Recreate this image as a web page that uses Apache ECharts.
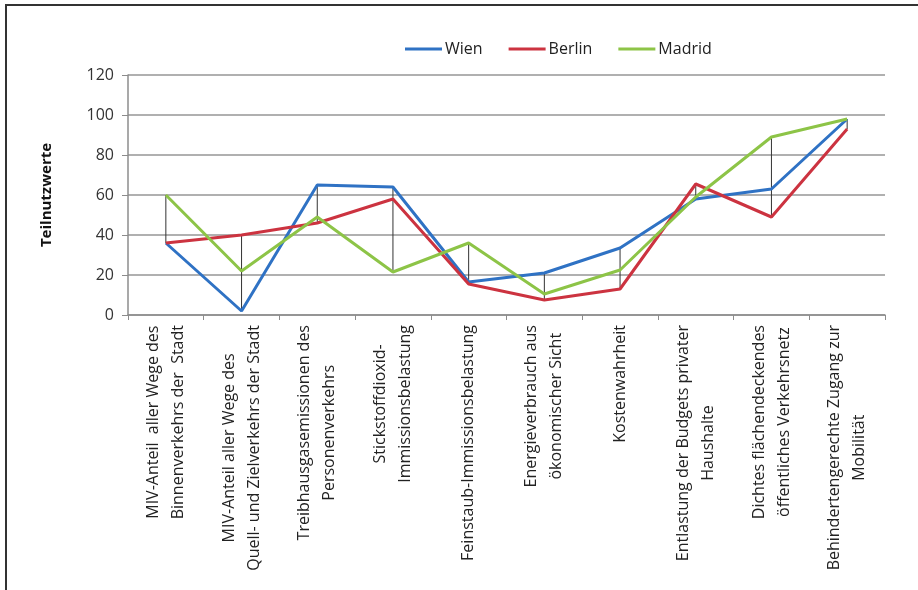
<!DOCTYPE html>
<html>
<head>
<meta charset="utf-8">
<script src="https://cdn.jsdelivr.net/npm/echarts@6/dist/echarts.min.js"></script>
<style>
  html, body { margin: 0; padding: 0; background: #fff; }
  #wrap { position: relative; width: 918px; height: 590px; }
  #chart { position: absolute; left: 0; top: 0; width: 918px; height: 590px; }
  #frame { position: absolute; left: 5px; top: 4px; right: 0; bottom: 0;
           border-top: 2px solid #333; border-left: 2px solid #333; pointer-events: none; }
</style>
</head>
<body>
<div id="wrap">
  <div id="chart"></div>
  <div id="frame"></div>
</div>
<script>
// Kriterien (x-Achse)
const categories = [
  'MIV-Anteil  aller Wege des\nBinnenverkehrs der  Stadt',
  'MIV-Anteil aller Wege des\nQuell- und Zielverkehrs der Stadt',
  'Treibhausgasemissionen des\nPersonenverkehrs',
  'Stickstoffdioxid-\nImmissionsbelastung',
  'Feinstaub-Immissionsbelastung',
  'Energieverbrauch aus\nökonomischer Sicht',
  'Kostenwahrheit',
  'Entlastung der Budgets privater\nHaushalte',
  'Dichtes flächendeckendes\nöffentliches Verkehrsnetz',
  'Behindertengerechte Zugang zur\nMobilität'
]

// Teilnutzwerte je Stadt
const wien   = [36, 2, 65, 64, 16.5, 21, 33.5, 58, 63, 98]
const berlin = [36, 40, 46, 58, 15.5, 7.5, 13, 65.5, 49, 93]
const madrid = [60, 22, 49, 21.5, 36, 10.5, 22.5, 59, 89, 98]

const yTicks = [0, 20, 40, 60, 80, 100, 120]

// Hoch-Tief-Linien: min/max pro Kriterium
const hiLo = categories.map((c, i) => {
  const v = [wien[i], berlin[i], madrid[i]]
  return [i, Math.min(...v), Math.max(...v)]
})

const chart = echarts.init(document.getElementById('chart'))

const font = '"Open Sans", "Noto Sans", sans-serif'

const option = {
  backgroundColor: '#fff',
  animation: false,
  textStyle: { fontFamily: font },
  legend: {
    data: [
      { name: 'Wien', icon: 'rect' },
      { name: 'Berlin', icon: 'rect' },
      { name: 'Madrid', icon: 'rect' }
    ],
    left: 400,
    top: 36,
    itemWidth: 37,
    itemHeight: 3,
    itemGap: 26,
    textStyle: { fontSize: 16, color: '#222', fontFamily: font, padding: [0, 0, 0, -2] }
  },
  grid: {
    left: 128,
    right: 33,
    top: 75,
    bottom: 275
  },
  xAxis: {
    type: 'category',
    data: categories,
    boundaryGap: true,
    axisLine: { lineStyle: { color: '#8c8c8c', width: 1.5 } },
    axisTick: { show: true, length: 5, interval: 0, lineStyle: { color: '#8c8c8c' } },
    axisLabel: {
      interval: 0,
      rotate: 90,
      margin: 10,
      color: '#222',
      fontSize: 16,
      fontFamily: font,
      lineHeight: 25,
      formatter: (val) => val.split('\n').map(s => '{c|' + s + '}').join('\n'),
      rich: {
        c: { align: 'center', fontSize: 16, lineHeight: 25, color: '#222', fontFamily: font }
      }
    }
  },
  yAxis: {
    type: 'value',
    min: yTicks[0],
    max: yTicks[yTicks.length - 1],
    interval: 20,
    name: 'Teilnutzwerte',
    nameLocation: 'middle',
    nameRotate: 90,
    nameGap: 74,
    nameTextStyle: { fontSize: 15, fontWeight: 'bold', color: '#111', fontFamily: font },
    axisLine: { show: true, lineStyle: { color: '#8c8c8c', width: 1.5 } },
    axisTick: { show: true, length: 6, lineStyle: { color: '#8c8c8c' } },
    axisLabel: { fontSize: 16, color: '#333', margin: 14, fontFamily: font },
    splitLine: { lineStyle: { color: '#969696', width: 1.5 } }
  },
  series: [
    {
      name: 'hilo',
      type: 'custom',
      silent: true,
      z: 1,
      data: hiLo,
      renderItem: (params, api) => {
        const p1 = api.coord([api.value(0), api.value(1)])
        const p2 = api.coord([api.value(0), api.value(2)])
        return {
          type: 'line',
          shape: { x1: p1[0], y1: p1[1], x2: p2[0], y2: p2[1] },
          style: { stroke: '#333', lineWidth: 1 }
        }
      }
    },
    {
      name: 'Wien',
      type: 'line',
      data: wien,
      symbol: 'none',
      z: 3,
      itemStyle: { color: '#2f72c4' },
      lineStyle: { color: '#2f72c4', width: 3 }
    },
    {
      name: 'Berlin',
      type: 'line',
      data: berlin,
      symbol: 'none',
      z: 3,
      itemStyle: { color: '#cc3340' },
      lineStyle: { color: '#cc3340', width: 3 }
    },
    {
      name: 'Madrid',
      type: 'line',
      data: madrid,
      symbol: 'none',
      z: 3,
      itemStyle: { color: '#8dc447' },
      lineStyle: { color: '#8dc447', width: 3 }
    }
  ]
}

chart.setOption(option)
</script>
</body>
</html>
